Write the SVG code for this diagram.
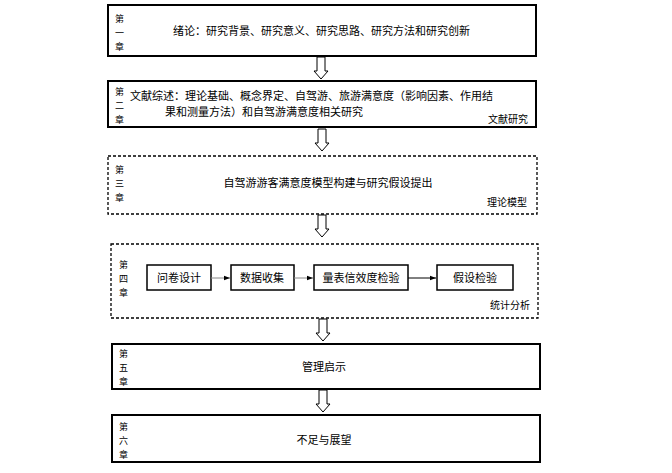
<svg xmlns="http://www.w3.org/2000/svg" width="672" height="473" viewBox="0 0 672 473">
<style>
.b{fill:#fff;stroke:#000;stroke-width:2}
.d{fill:#fff;stroke:#000;stroke-width:1.3;stroke-dasharray:3,2}
.i{fill:#fff;stroke:#000;stroke-width:1.5}
text{font-family:"Noto Sans CJK SC","Liberation Sans",sans-serif;font-size:11px;fill:#000}
.c{font-size:9px}
.m{text-anchor:middle}
.e{text-anchor:end;font-size:10px}
.ar{fill:#fff;stroke:#000;stroke-width:1}
</style>
<defs>
<marker id="h" viewBox="0 0 8 8" refX="8" refY="4" markerWidth="6" markerHeight="6" orient="auto"><path d="M0,1 L8,4 L0,7z" fill="#000"/></marker>
<path id="ha" d="M-4,0 H4 V14 H7 L0,22 L-7,14 H-4Z"/>
</defs>
<g id="ch1"><rect class="b" x="108" y="5" width="428" height="51"/>
<text class="c" x="115" y="22">第</text><text class="c" x="115" y="36">一</text><text class="c" x="115" y="50">章</text>
<text x="173" y="35">绪论：研究背景、研究意义、研究思路、研究方法和研究创新</text></g>
<g id="ch2"><rect class="b" x="108" y="81" width="428" height="46"/>
<text class="c" x="115" y="95">第</text><text class="c" x="115" y="109">二</text><text class="c" x="115" y="123">章</text>
<text x="130" y="100" font-size="10.5">文献综述：理论基础、概念界定、自驾游、旅游满意度（影响因素、作用结</text>
<text x="165" y="116" font-size="10.5">果和测量方法）和自驾游满意度相关研究</text>
<text class="e" x="528" y="123">文献研究</text></g>
<g id="ch3"><rect class="d" x="108" y="156" width="429" height="58"/>
<text class="c" x="115" y="173">第</text><text class="c" x="115" y="187">三</text><text class="c" x="115" y="201">章</text>
<text class="m" x="328" y="187">自驾游游客满意度模型构建与研究假设提出</text>
<text class="e" x="527" y="206">理论模型</text></g>
<g id="ch4"><rect class="d" x="111" y="244" width="427" height="74"/>
<text class="c" x="119" y="268">第</text><text class="c" x="119" y="282">四</text><text class="c" x="119" y="296">章</text>
<text class="e" x="530" y="309">统计分析</text></g>
<g id="n1"><rect class="i" x="147" y="265" width="64" height="25"/><text class="m" x="179" y="282">问卷设计</text></g>
<g id="n2"><rect class="i" x="231" y="265" width="63" height="25"/><text class="m" x="262" y="282">数据收集</text></g>
<g id="n3"><rect class="i" x="314" y="265" width="94" height="25"/><text class="m" x="361" y="282">量表信效度检验</text></g>
<g id="n4"><rect class="i" x="437" y="265" width="76" height="25"/><text class="m" x="475" y="282">假设检验</text></g>
<g id="ch5"><rect class="b" x="112" y="344" width="428" height="45"/>
<text class="c" x="119" y="357">第</text><text class="c" x="119" y="371">五</text><text class="c" x="119" y="385">章</text>
<text class="m" x="324" y="371">管理启示</text></g>
<g id="ch6"><rect class="b" x="112" y="415" width="428" height="47"/>
<text class="c" x="119" y="430">第</text><text class="c" x="119" y="444">六</text><text class="c" x="119" y="458">章</text>
<text class="m" x="324" y="444">不足与展望</text></g>
<g id="connectors">
<use href="#ha" class="ar" x="321" y="57"/>
<use href="#ha" class="ar" x="322" y="129"/>
<use href="#ha" class="ar" x="322" y="215"/>
<use href="#ha" class="ar" x="323" y="319"/>
<use href="#ha" class="ar" x="323" y="390"/>
<line x1="211" y1="278" x2="230" y2="278" stroke="#888" stroke-width="1" marker-end="url(#h)"/>
<line x1="294" y1="278" x2="313" y2="278" stroke="#888" stroke-width="1" marker-end="url(#h)"/>
<line x1="408" y1="278" x2="436" y2="278" stroke="#000" stroke-width="1" marker-end="url(#h)"/>
</g>
</svg>
